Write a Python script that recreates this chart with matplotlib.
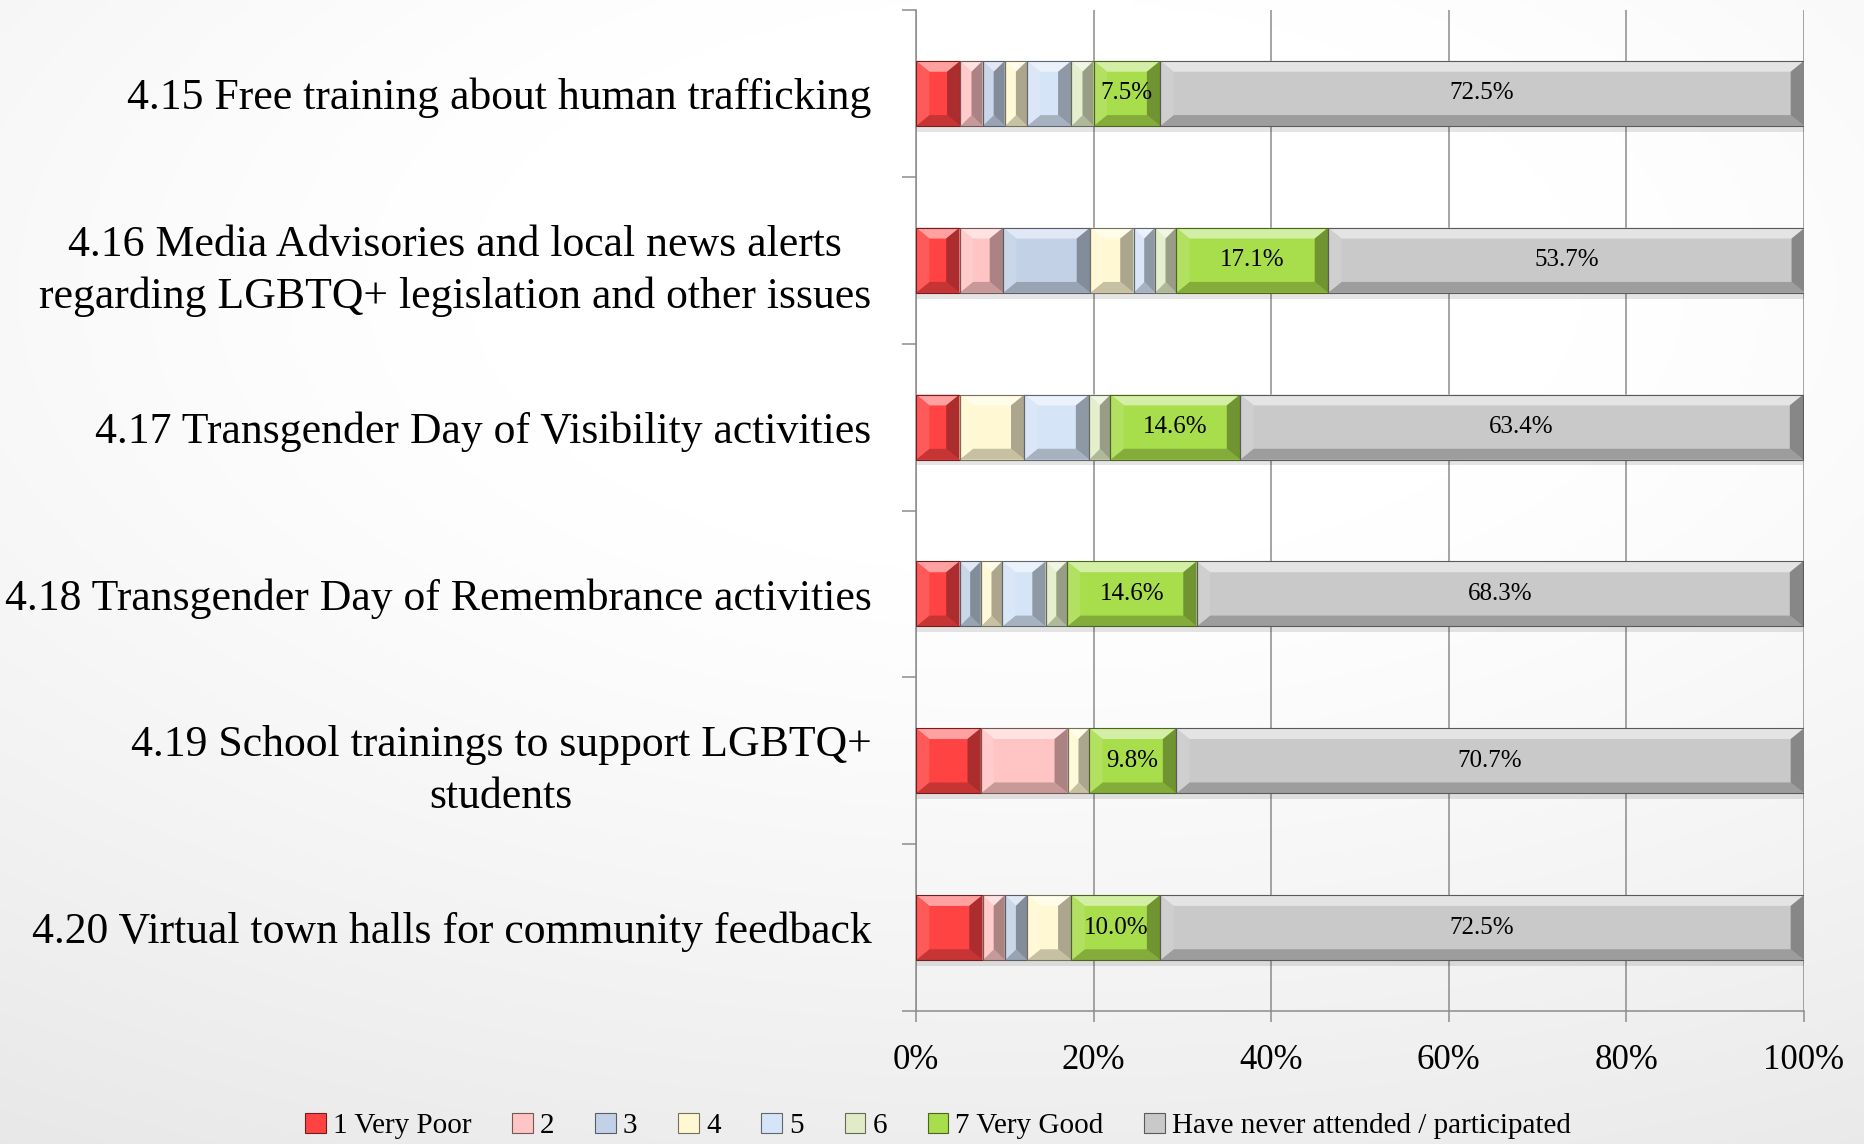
import numpy as np
import matplotlib
matplotlib.use("Agg")
import matplotlib.pyplot as plt
from matplotlib.patches import Polygon, Patch
from matplotlib.colors import to_rgb

# ---------------- data ----------------
categories = [
    "4.15 Free training about human trafficking",
    "4.16 Media Advisories and local news alerts\nregarding LGBTQ+ legislation and other issues",
    "4.17 Transgender Day of Visibility activities",
    "4.18 Transgender Day of Remembrance activities",
    "4.19 School trainings to support LGBTQ+\nstudents",
    "4.20 Virtual town halls for community feedback",
]
series_names = ["1 Very Poor", "2", "3", "4", "5", "6", "7 Very Good",
                "Have never attended / participated"]
very_poor = [5.0, 4.9, 4.9, 4.9, 7.3, 7.5]
r2 = [2.5, 4.9, 0.0, 0.0, 9.8, 2.5]
r3 = [2.5, 9.8, 0.0, 2.4, 0.0, 2.5]
r4 = [2.5, 4.9, 7.3, 2.4, 2.4, 5.0]
r5 = [5.0, 2.4, 7.3, 4.9, 0.0, 0.0]
r6 = [2.5, 2.4, 2.4, 2.4, 0.0, 0.0]
very_good = [7.5, 17.1, 14.6, 14.6, 9.8, 10.0]
never = [72.5, 53.7, 63.4, 68.3, 70.7, 72.5]
series = [very_poor, r2, r3, r4, r5, r6, very_good, never]
labelled = [6, 7]
xticks = [0, 20, 40, 60, 80, 100]
xtick_labels = ["0%", "20%", "40%", "60%", "80%", "100%"]

colors = ["#FF4343", "#FFC4C4", "#C3D1E6", "#FFF8D2", "#D6E4F7", "#E1ECC6",
          "#A8DD4C", "#C9C9C9"]

FONT = "Liberation Serif"
plt.rcParams["font.family"] = [FONT, "DejaVu Serif"]

W, H = 1865, 1144
fig = plt.figure(figsize=(W / 100, H / 100), dpi=100)

# background gradient
bg = fig.add_axes([0, 0, 1, 1], zorder=-10)
yy, xx = np.mgrid[0:1:300j, 0:1:480j]
d = np.sqrt(((xx - 0.55) / 1.0) ** 2 + ((yy - 0.25) / 0.85) ** 2)
val = 1.0 - 0.13 * np.clip(d - 0.3, 0, None) ** 1.2
bg.imshow(np.dstack([val, val, val]), aspect="auto", extent=[0, 1, 1, 0],
          interpolation="bilinear")
bg.set_axis_off()

left, right = 916 / W, 1804 / W
top, bottom = 1 - 10 / H, 1 - 1011 / H
ax = fig.add_axes([left, bottom, right - left, top - bottom])
ax.patch.set_alpha(0)

n = len(categories)
ypos = np.arange(n)
bar_h = 0.39

def shade(c, f):
    r = np.array(to_rgb(c))
    if f >= 0:
        return tuple(r + (1 - r) * f)
    return tuple(r * (1 + f))

# shadow
totals = np.sum(np.array(series), axis=0)
ax.barh(ypos + 0.035, totals, height=bar_h, left=0, color="black",
        alpha=0.10, zorder=1, linewidth=0)

BX, BY = 1.5, 0.065
lefts = np.zeros(n)
for si, vals in enumerate(series):
    bars = ax.barh(ypos, vals, height=bar_h, left=lefts, color=colors[si],
                   edgecolor="none", linewidth=0, zorder=3)
    for b in bars:
        x0, w = b.get_x(), b.get_width()
        if w <= 0:
            continue
        yt, h = b.get_y(), b.get_height()
        x1, yb = x0 + w, yt + h
        bx, by = min(BX, w / 2), min(BY, h / 2)
        c = colors[si]
        polys = [
            ([(x0, yt), (x1, yt), (x1 - bx, yt + by), (x0 + bx, yt + by)], shade(c, 0.5)),
            ([(x0, yb), (x1, yb), (x1 - bx, yb - by), (x0 + bx, yb - by)], shade(c, -0.22)),
            ([(x0, yt), (x0 + bx, yt + by), (x0 + bx, yb - by), (x0, yb)], shade(c, 0.12)),
            ([(x1, yt), (x1 - bx, yt + by), (x1 - bx, yb - by), (x1, yb)], shade(c, -0.33)),
        ]
        for pts, col in polys:
            ax.add_patch(Polygon(pts, closed=True, facecolor=col, edgecolor="none",
                                 zorder=4))
        ax.add_patch(Polygon([(x0, yt), (x1, yt), (x1, yb), (x0, yb)], closed=True,
                             facecolor="none", edgecolor=shade(c, -0.55),
                             linewidth=0.8, zorder=5))
        if si in labelled:
            ax.text(x0 + w / 2, yt + h / 2, f"{w:.1f}%", ha="center", va="center",
                    fontsize=18, color="black", zorder=6)
    lefts = lefts + np.array(vals)

ax.set_xlim(0, 100)
ax.set_ylim(n - 0.5, -0.5)

axis_col = "#8C8C8C"
ax.set_xticks(xticks)
ax.set_xticklabels(xtick_labels, fontsize=25)
ax.set_yticks(np.arange(n + 1) - 0.5)
ax.set_yticklabels([])
ax.set_yticks(ypos, minor=True)
ax.set_yticklabels(categories, minor=True, fontsize=31.5, multialignment="center",
                   linespacing=1.37)
ax.tick_params(axis="y", which="minor", length=0, pad=32)
ax.tick_params(axis="y", which="major", length=10, width=1.1, color=axis_col,
               direction="out")
ax.tick_params(axis="x", length=8, width=1.1, color=axis_col, direction="out",
               pad=16)
ax.grid(axis="x", color=axis_col, linewidth=1.1, zorder=0)
ax.set_axisbelow(True)
for s in ["top", "right"]:
    ax.spines[s].set_visible(False)
for s in ["left", "bottom"]:
    ax.spines[s].set_color(axis_col)
    ax.spines[s].set_linewidth(1.1)

handles = [Patch(facecolor=colors[i], edgecolor=shade(colors[i], -0.55),
                 linewidth=0.8) for i in range(len(series_names))]
fig.legend(handles, series_names, loc="center", bbox_to_anchor=(0.503, 1 - 1126 / H),
           ncol=8, frameon=False, fontsize=21, handlelength=0.7, handleheight=0.7,
           handletextpad=0.25, columnspacing=1.4)

fig.savefig("out.png", dpi=100)
